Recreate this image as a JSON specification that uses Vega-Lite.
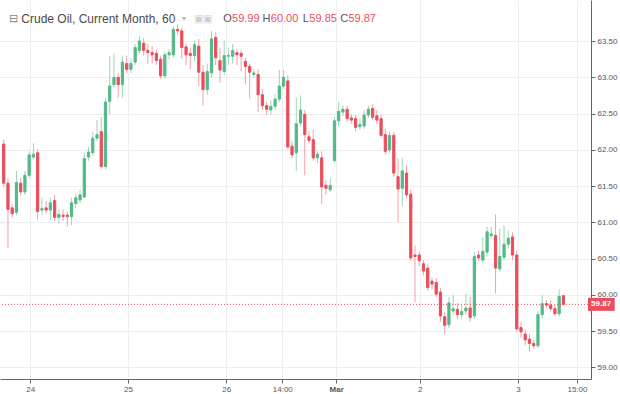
{
  "$schema": "https://vega.github.io/schema/vega-lite/v6.json",
  "autosize": {"type": "none"},
  "width": 591,
  "height": 379,
  "padding": {"left": 0, "top": 0, "right": 29, "bottom": 15},
  "background": "#ffffff",
  "config": {"view": {"stroke": null}, "font": "Liberation Sans"},
  "datasets": {
    "candles": [
      {"i":0,"o":62.08,"h":62.14,"l":61.50,"c":61.54},
      {"i":1,"o":61.54,"h":61.61,"l":60.64,"c":61.18},
      {"i":2,"o":61.20,"h":61.25,"l":61.07,"c":61.12},
      {"i":3,"o":61.14,"h":61.71,"l":61.10,"c":61.55},
      {"i":4,"o":61.54,"h":61.61,"l":61.37,"c":61.42},
      {"i":5,"o":61.42,"h":61.71,"l":61.38,"c":61.65},
      {"i":6,"o":61.65,"h":61.98,"l":61.61,"c":61.93},
      {"i":7,"o":61.90,"h":62.09,"l":61.88,"c":61.94},
      {"i":8,"o":61.96,"h":62.01,"l":61.04,"c":61.15},
      {"i":9,"o":61.17,"h":61.34,"l":61.10,"c":61.19},
      {"i":10,"o":61.20,"h":61.29,"l":61.12,"c":61.17},
      {"i":11,"o":61.17,"h":61.34,"l":61.04,"c":61.27},
      {"i":12,"o":61.30,"h":61.38,"l":61.02,"c":61.07},
      {"i":13,"o":61.07,"h":61.18,"l":60.98,"c":61.11},
      {"i":14,"o":61.10,"h":61.18,"l":61.02,"c":61.08},
      {"i":15,"o":61.10,"h":61.15,"l":60.94,"c":61.08},
      {"i":16,"o":61.08,"h":61.34,"l":60.96,"c":61.27},
      {"i":17,"o":61.26,"h":61.39,"l":61.20,"c":61.34},
      {"i":18,"o":61.31,"h":61.45,"l":61.27,"c":61.38},
      {"i":19,"o":61.35,"h":61.96,"l":61.33,"c":61.88},
      {"i":20,"o":61.90,"h":62.04,"l":61.85,"c":61.97},
      {"i":21,"o":61.96,"h":62.25,"l":61.92,"c":62.16},
      {"i":22,"o":62.16,"h":62.41,"l":62.12,"c":62.21},
      {"i":23,"o":62.25,"h":62.45,"l":61.74,"c":61.77},
      {"i":24,"o":61.77,"h":62.72,"l":61.73,"c":62.66},
      {"i":25,"o":62.67,"h":63.30,"l":62.49,"c":62.88},
      {"i":26,"o":62.90,"h":63.33,"l":62.86,"c":63.00},
      {"i":27,"o":63.00,"h":63.06,"l":62.72,"c":62.90},
      {"i":28,"o":62.90,"h":63.30,"l":62.72,"c":63.21},
      {"i":29,"o":63.19,"h":63.30,"l":63.06,"c":63.11},
      {"i":30,"o":63.11,"h":63.26,"l":63.06,"c":63.19},
      {"i":31,"o":63.21,"h":63.46,"l":63.17,"c":63.41},
      {"i":32,"o":63.37,"h":63.57,"l":63.33,"c":63.50},
      {"i":33,"o":63.47,"h":63.54,"l":63.30,"c":63.37},
      {"i":34,"o":63.37,"h":63.46,"l":63.19,"c":63.34},
      {"i":35,"o":63.34,"h":63.43,"l":63.19,"c":63.31},
      {"i":36,"o":63.33,"h":63.38,"l":63.17,"c":63.23},
      {"i":37,"o":63.25,"h":63.30,"l":62.98,"c":63.02},
      {"i":38,"o":63.02,"h":63.35,"l":62.98,"c":63.31},
      {"i":39,"o":63.31,"h":63.39,"l":63.25,"c":63.34},
      {"i":40,"o":63.31,"h":63.70,"l":63.27,"c":63.66},
      {"i":41,"o":63.66,"h":63.73,"l":63.59,"c":63.64},
      {"i":42,"o":63.64,"h":63.68,"l":63.25,"c":63.41},
      {"i":43,"o":63.42,"h":63.46,"l":63.17,"c":63.31},
      {"i":44,"o":63.33,"h":63.41,"l":63.11,"c":63.30},
      {"i":45,"o":63.30,"h":63.51,"l":63.22,"c":63.45},
      {"i":46,"o":63.43,"h":63.53,"l":62.88,"c":63.07},
      {"i":47,"o":63.07,"h":63.17,"l":62.61,"c":62.83},
      {"i":48,"o":62.83,"h":63.19,"l":62.76,"c":63.08},
      {"i":49,"o":63.06,"h":63.64,"l":62.99,"c":63.53},
      {"i":50,"o":63.55,"h":63.62,"l":63.17,"c":63.27},
      {"i":51,"o":63.23,"h":63.41,"l":62.92,"c":63.10},
      {"i":52,"o":63.08,"h":63.51,"l":63.03,"c":63.30},
      {"i":53,"o":63.29,"h":63.41,"l":63.17,"c":63.30},
      {"i":54,"o":63.29,"h":63.46,"l":63.19,"c":63.37},
      {"i":55,"o":63.34,"h":63.39,"l":63.17,"c":63.31},
      {"i":56,"o":63.33,"h":63.38,"l":63.08,"c":63.29},
      {"i":57,"o":63.22,"h":63.27,"l":62.90,"c":63.15},
      {"i":58,"o":63.15,"h":63.19,"l":62.71,"c":63.07},
      {"i":59,"o":63.04,"h":63.11,"l":63.00,"c":63.06},
      {"i":60,"o":63.04,"h":63.11,"l":62.52,"c":62.76},
      {"i":61,"o":62.76,"h":62.84,"l":62.55,"c":62.61},
      {"i":62,"o":62.61,"h":62.66,"l":62.48,"c":62.56},
      {"i":63,"o":62.55,"h":62.68,"l":62.49,"c":62.60},
      {"i":64,"o":62.60,"h":62.76,"l":62.55,"c":62.70},
      {"i":65,"o":62.70,"h":63.10,"l":62.66,"c":62.88},
      {"i":66,"o":62.88,"h":63.10,"l":62.84,"c":63.00},
      {"i":67,"o":62.95,"h":63.03,"l":62.01,"c":62.04},
      {"i":68,"o":62.05,"h":62.12,"l":61.88,"c":61.93},
      {"i":69,"o":61.96,"h":62.72,"l":61.71,"c":62.36},
      {"i":70,"o":62.37,"h":62.75,"l":62.33,"c":62.55},
      {"i":71,"o":62.49,"h":62.55,"l":61.65,"c":62.21},
      {"i":72,"o":62.18,"h":62.25,"l":62.09,"c":62.13},
      {"i":73,"o":62.14,"h":62.28,"l":61.85,"c":61.89},
      {"i":74,"o":61.89,"h":61.98,"l":61.82,"c":61.94},
      {"i":75,"o":61.89,"h":61.98,"l":61.25,"c":61.49},
      {"i":76,"o":61.51,"h":61.58,"l":61.38,"c":61.47},
      {"i":77,"o":61.45,"h":61.61,"l":61.42,"c":61.51},
      {"i":78,"o":61.85,"h":62.45,"l":61.82,"c":62.40},
      {"i":79,"o":62.40,"h":62.66,"l":62.32,"c":62.53},
      {"i":80,"o":62.52,"h":62.61,"l":62.47,"c":62.56},
      {"i":81,"o":62.56,"h":62.61,"l":62.39,"c":62.43},
      {"i":82,"o":62.44,"h":62.49,"l":62.36,"c":62.41},
      {"i":83,"o":62.43,"h":62.48,"l":62.25,"c":62.31},
      {"i":84,"o":62.32,"h":62.43,"l":62.28,"c":62.35},
      {"i":85,"o":62.33,"h":62.55,"l":62.29,"c":62.48},
      {"i":86,"o":62.48,"h":62.61,"l":62.44,"c":62.56},
      {"i":87,"o":62.57,"h":62.63,"l":62.41,"c":62.45},
      {"i":88,"o":62.47,"h":62.55,"l":62.36,"c":62.41},
      {"i":89,"o":62.43,"h":62.48,"l":62.17,"c":62.20},
      {"i":90,"o":62.21,"h":62.29,"l":61.94,"c":61.98},
      {"i":91,"o":62.00,"h":62.25,"l":61.96,"c":62.20},
      {"i":92,"o":62.20,"h":62.25,"l":61.63,"c":61.68},
      {"i":93,"o":61.63,"h":61.88,"l":61.00,"c":61.46},
      {"i":94,"o":61.47,"h":61.89,"l":61.22,"c":61.71},
      {"i":95,"o":61.68,"h":61.78,"l":61.34,"c":61.38},
      {"i":96,"o":61.39,"h":61.45,"l":60.47,"c":60.51},
      {"i":97,"o":60.55,"h":60.68,"l":59.90,"c":60.53},
      {"i":98,"o":60.55,"h":60.60,"l":60.40,"c":60.47},
      {"i":99,"o":60.43,"h":60.48,"l":60.27,"c":60.33},
      {"i":100,"o":60.37,"h":60.43,"l":60.06,"c":60.10},
      {"i":101,"o":60.19,"h":60.24,"l":60.08,"c":60.15},
      {"i":102,"o":60.17,"h":60.23,"l":59.97,"c":60.01},
      {"i":103,"o":60.04,"h":60.10,"l":59.63,"c":59.71},
      {"i":104,"o":59.70,"h":59.76,"l":59.46,"c":59.58},
      {"i":105,"o":59.59,"h":59.97,"l":59.54,"c":59.89},
      {"i":106,"o":59.78,"h":60.00,"l":59.73,"c":59.81},
      {"i":107,"o":59.80,"h":59.89,"l":59.67,"c":59.73},
      {"i":108,"o":59.73,"h":59.86,"l":59.67,"c":59.77},
      {"i":109,"o":59.78,"h":60.02,"l":59.73,"c":59.82},
      {"i":110,"o":59.82,"h":59.97,"l":59.63,"c":59.69},
      {"i":111,"o":59.71,"h":60.59,"l":59.67,"c":60.53},
      {"i":112,"o":60.55,"h":60.61,"l":60.47,"c":60.51},
      {"i":113,"o":60.48,"h":60.80,"l":60.44,"c":60.60},
      {"i":114,"o":60.59,"h":60.94,"l":60.53,"c":60.87},
      {"i":115,"o":60.82,"h":60.94,"l":60.78,"c":60.84},
      {"i":116,"o":60.82,"h":61.11,"l":60.02,"c":60.37},
      {"i":117,"o":60.36,"h":60.91,"l":60.31,"c":60.53},
      {"i":118,"o":60.52,"h":60.96,"l":60.48,"c":60.70},
      {"i":119,"o":60.70,"h":60.88,"l":60.64,"c":60.78},
      {"i":120,"o":60.80,"h":60.86,"l":60.48,"c":60.55},
      {"i":121,"o":60.55,"h":60.61,"l":59.49,"c":59.53},
      {"i":122,"o":59.55,"h":59.63,"l":59.41,"c":59.49},
      {"i":123,"o":59.46,"h":59.53,"l":59.30,"c":59.38},
      {"i":124,"o":59.39,"h":59.46,"l":59.22,"c":59.33},
      {"i":125,"o":59.33,"h":59.38,"l":59.26,"c":59.30},
      {"i":126,"o":59.30,"h":59.78,"l":59.27,"c":59.73},
      {"i":127,"o":59.73,"h":60.00,"l":59.67,"c":59.88},
      {"i":128,"o":59.88,"h":59.93,"l":59.82,"c":59.86},
      {"i":129,"o":59.86,"h":59.92,"l":59.77,"c":59.81},
      {"i":130,"o":59.81,"h":59.86,"l":59.70,"c":59.74},
      {"i":131,"o":59.74,"h":60.08,"l":59.70,"c":59.98},
      {"i":132,"o":59.99,"h":60.00,"l":59.85,"c":59.87}
    ]
  },
  "layer": [
    {
      "data": {"name": "candles"},
      "mark": {"type": "rule", "strokeWidth": 1},
      "encoding": {
        "x": {"field": "i", "type": "quantitative", "scale": {"domain": [0.3, 137.33], "nice": false, "zero": false},
          "axis": {"orient": "bottom", "title": null, "values": [6.26, 29.3, 52.5, 65.7, 78.4, 98.1, 121.3, 135.2],
            "labelExpr": "datum.value < 10 ? '24' : datum.value < 40 ? '25' : datum.value < 60 ? '26' : datum.value < 70 ? '14:00' : datum.value < 90 ? 'Mar' : datum.value < 110 ? '2' : datum.value < 130 ? '3' : '15:00'",
            "labelFontWeight": {"condition": {"test": "datum.value > 78 && datum.value < 79", "value": "bold"}, "value": "normal"},
            "labelFontSize": 8, "labelColor": "#555555", "labelPadding": 2, "labelFlush": false,
            "domainColor": "#666666", "tickColor": "#666666", "tickSize": 4,
            "grid": true, "gridColor": "#eceef1"}},
        "y": {"field": "l", "type": "quantitative", "scale": {"domain": [58.91, 63.997], "nice": false, "zero": false},
          "axis": {"orient": "right", "title": null, "values": [59, 59.5, 60, 60.5, 61, 61.5, 62, 62.5, 63, 63.5], "format": ".2f",
            "labelFontSize": 8, "labelColor": "#555555", "labelPadding": 2,
            "domainColor": "#666666", "tickColor": "#666666", "tickSize": 4,
            "grid": true, "gridColor": "#eceef1"}},
        "y2": {"field": "h"},
        "color": {"condition": {"test": "datum.c >= datum.o", "value": "#9dd6ba"}, "value": "#f3a0a8"}
      }
    },
    {
      "data": {"name": "candles"},
      "mark": {"type": "bar", "size": 2.2, "strokeWidth": 1},
      "encoding": {
        "x": {"field": "i", "type": "quantitative", "scale": {"domain": [0.3, 137.33], "nice": false, "zero": false}},
        "y": {"field": "o", "type": "quantitative", "scale": {"domain": [58.91, 63.997], "nice": false, "zero": false}},
        "y2": {"field": "c"},
        "color": {"condition": {"test": "datum.c >= datum.o", "value": "#53b987"}, "value": "#eb4d5c"},
        "stroke": {"condition": {"test": "datum.c >= datum.o", "value": "#53b987"}, "value": "#eb4d5c"}
      }
    },
    {
      "data": {"values": [{"price": 59.87}]},
      "mark": {"type": "rule", "color": "#eb4d5c", "strokeDash": [1, 2], "strokeWidth": 1},
      "encoding": {
        "y": {"field": "price", "type": "quantitative", "scale": {"domain": [58.91, 63.997], "nice": false, "zero": false}}
      }
    },
    {
      "data": {"values": [{"price": 59.87}]},
      "mark": {"type": "bar", "orient": "horizontal", "size": 13, "color": "#eb4d5c", "clip": false},
      "encoding": {
        "x": {"datum": 137.8, "type": "quantitative", "scale": {"domain": [0.3, 137.33], "nice": false, "zero": false}},
        "x2": {"datum": 144.1},
        "y": {"field": "price", "type": "quantitative", "scale": {"domain": [58.91, 63.997], "nice": false, "zero": false}}
      }
    },
    {
      "data": {"values": [{"price": 59.87}]},
      "mark": {"type": "text", "color": "#ffffff", "fontSize": 8, "fontWeight": "bold", "align": "center", "baseline": "middle"},
      "encoding": {
        "x": {"datum": 140.9, "type": "quantitative", "scale": {"domain": [0.3, 137.33], "nice": false, "zero": false}},
        "y": {"field": "price", "type": "quantitative", "scale": {"domain": [58.91, 63.997], "nice": false, "zero": false}},
        "text": {"field": "price", "type": "quantitative", "format": ".2f"}
      }
    },
    {
      "data": {"values": [{}]},
      "mark": {"type": "text", "text": "⊟", "color": "#888888", "fontSize": 11, "align": "left", "baseline": "middle"},
      "encoding": {"x": {"datum": 1.23, "type": "quantitative"}, "y": {"datum": 63.8, "type": "quantitative"}}
    },
    {
      "data": {"values": [{}]},
      "mark": {"type": "text", "text": "Crude Oil, Current Month, 60", "color": "#4a4a4a", "fontSize": 12, "align": "left", "baseline": "middle"},
      "encoding": {"x": {"datum": 4.15, "type": "quantitative"}, "y": {"datum": 63.8, "type": "quantitative"}}
    },
    {
      "data": {"values": [{}]},
      "mark": {"type": "text", "text": "▾", "color": "#b0b0b0", "fontSize": 8, "align": "left", "baseline": "middle"},
      "encoding": {"x": {"datum": 42.04, "type": "quantitative"}, "y": {"datum": 63.8, "type": "quantitative"}}
    },
    {
      "data": {"values": [{}]},
      "mark": {"type": "text", "text": "▣▣", "color": "#cfcfcf", "fontSize": 10, "align": "left", "baseline": "middle"},
      "encoding": {"x": {"datum": 44.82, "type": "quantitative"}, "y": {"datum": 63.8, "type": "quantitative"}}
    },
    {
      "data": {"values": [{}]},
      "mark": {"type": "text", "text": "O", "color": "#555555", "fontSize": 11, "align": "left", "baseline": "middle"},
      "encoding": {"x": {"datum": 51.77, "type": "quantitative"}, "y": {"datum": 63.8, "type": "quantitative"}}
    },
    {
      "data": {"values": [{}]},
      "mark": {"type": "text", "text": "59.99", "color": "#eb4d5c", "fontSize": 11, "align": "left", "baseline": "middle"},
      "encoding": {"x": {"datum": 53.85, "type": "quantitative"}, "y": {"datum": 63.8, "type": "quantitative"}}
    },
    {
      "data": {"values": [{}]},
      "mark": {"type": "text", "text": "H", "color": "#555555", "fontSize": 11, "align": "left", "baseline": "middle"},
      "encoding": {"x": {"datum": 61.05, "type": "quantitative"}, "y": {"datum": 63.8, "type": "quantitative"}}
    },
    {
      "data": {"values": [{}]},
      "mark": {"type": "text", "text": "60.00", "color": "#eb4d5c", "fontSize": 11, "align": "left", "baseline": "middle"},
      "encoding": {"x": {"datum": 62.98, "type": "quantitative"}, "y": {"datum": 63.8, "type": "quantitative"}}
    },
    {
      "data": {"values": [{}]},
      "mark": {"type": "text", "text": "L", "color": "#555555", "fontSize": 11, "align": "left", "baseline": "middle"},
      "encoding": {"x": {"datum": 70.55, "type": "quantitative"}, "y": {"datum": 63.8, "type": "quantitative"}}
    },
    {
      "data": {"values": [{}]},
      "mark": {"type": "text", "text": "59.85", "color": "#eb4d5c", "fontSize": 11, "align": "left", "baseline": "middle"},
      "encoding": {"x": {"datum": 72.08, "type": "quantitative"}, "y": {"datum": 63.8, "type": "quantitative"}}
    },
    {
      "data": {"values": [{}]},
      "mark": {"type": "text", "text": "C", "color": "#555555", "fontSize": 11, "align": "left", "baseline": "middle"},
      "encoding": {"x": {"datum": 79.36, "type": "quantitative"}, "y": {"datum": 63.8, "type": "quantitative"}}
    },
    {
      "data": {"values": [{}]},
      "mark": {"type": "text", "text": "59.87", "color": "#eb4d5c", "fontSize": 11, "align": "left", "baseline": "middle"},
      "encoding": {"x": {"datum": 81.3, "type": "quantitative"}, "y": {"datum": 63.8, "type": "quantitative"}}
    }
  ]
}
